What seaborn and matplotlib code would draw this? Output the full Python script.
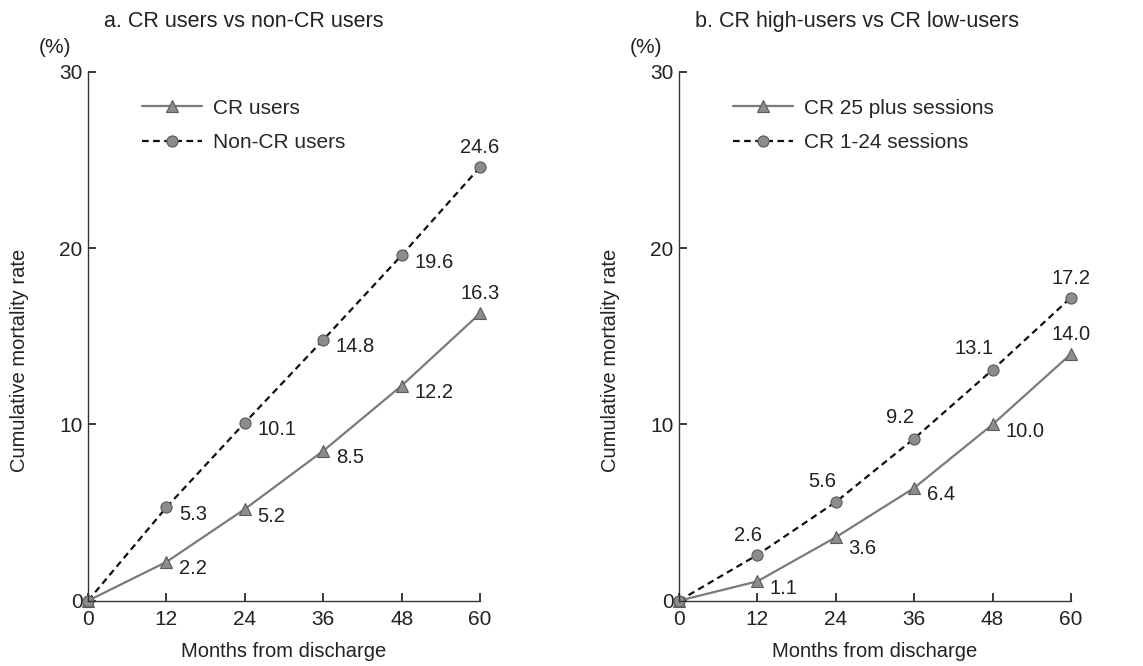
import pandas as pd
import numpy as np
import seaborn as sns
import matplotlib.pyplot as plt

months = [0, 12, 24, 36, 48, 60]

# panel a
cr_users = [0, 2.2, 5.2, 8.5, 12.2, 16.3]
non_cr_users = [0, 5.3, 10.1, 14.8, 19.6, 24.6]

# panel b
cr_25plus = [0, 1.1, 3.6, 6.4, 10.0, 14.0]
cr_1_24 = [0, 2.6, 5.6, 9.2, 13.1, 17.2]

sns.set_theme(style="ticks")
plt.rcParams['font.family'] = ['Liberation Sans', 'DejaVu Sans']

fig = plt.figure(figsize=(11.43, 6.66), dpi=100)
ax_a = fig.add_axes([0.077, 0.098, 0.343, 0.794])
ax_b = fig.add_axes([0.594, 0.098, 0.343, 0.794])

# label offsets (points) and alignment for each point
right = ((9, -5), "left")
above = ((0, 14), "center")
upleft = ((-10, 15), "center")

panels = [
    (ax_a, "a. CR users vs non-CR users",
     ("CR users", cr_users), ("Non-CR users", non_cr_users),
     [None, right, right, right, right, above],
     [None, right, right, right, right, above]),
    (ax_b, "b. CR high-users vs CR low-users",
     ("CR 25 plus sessions", cr_25plus), ("CR 1-24 sessions", cr_1_24),
     [None, right, ((9, -8), "left"), right, right, above],
     [None, ((-7, 14), "center"), upleft, upleft, ((-13, 15), "center"), above]),
]

for ax, title, (sname, svals), (dname, dvals), s_off, d_off in panels:
    df = pd.DataFrame({
        "month": months * 2,
        "rate": svals + dvals,
        "group": [sname] * 6 + [dname] * 6,
    })
    sns.lineplot(data=df, x="month", y="rate", hue="group", style="group",
                 palette={sname: "#7a7a7a", dname: "#111111"},
                 dashes={sname: "", dname: (3, 2)},
                 markers={sname: "^", dname: "o"},
                 markersize=8, linewidth=1.6, ax=ax)
    for line in ax.lines:
        line.set_markerfacecolor("#8c8c8c")
        line.set_markeredgecolor("#5a5a5a")
        line.set_markeredgewidth(0.8)

    for vals, offs in [(svals, s_off), (dvals, d_off)]:
        for x, y, off in zip(months, vals, offs):
            if off is None:
                continue
            ax.annotate(f"{y:.1f}", (x, y), xytext=off[0], textcoords="offset points",
                        ha=off[1], va="center", fontsize=14.5, color="#222222")

    ax.set_xlim(0, 60)
    ax.set_ylim(0, 30)
    ax.set_xticks(months)
    ax.set_yticks([0, 10, 20, 30])
    ax.tick_params(direction="in", length=6, labelsize=15, colors="#222222")
    ax.tick_params(axis="x", pad=7)
    ax.tick_params(axis="y", pad=4)
    ax.set_xlabel("Months from discharge", fontsize=14.5, color="#222222", labelpad=9)
    ax.set_ylabel("Cumulative mortality rate", fontsize=14.5, color="#222222")
    ax.yaxis.set_label_coords(-0.15, 0.455)
    sns.despine(ax=ax)
    for sp in ["left", "bottom"]:
        ax.spines[sp].set_color("#333333")
        ax.spines[sp].set_linewidth(1.0)
    ax.text(-0.125, 1.035, "(%)", transform=ax.transAxes, fontsize=15, color="#222222")
    ax.text(0.04, 1.085, title, transform=ax.transAxes, fontsize=15.5, color="#222222")

    ax.legend(loc="upper left", bbox_to_anchor=(0.09, 0.985), frameon=False,
              fontsize=15, handlelength=2.9, handletextpad=0.5,
              labelspacing=0.75, title=None)
    for line in ax.lines:
        line.set_clip_on(False)

fig.savefig("out.png", dpi=100)
